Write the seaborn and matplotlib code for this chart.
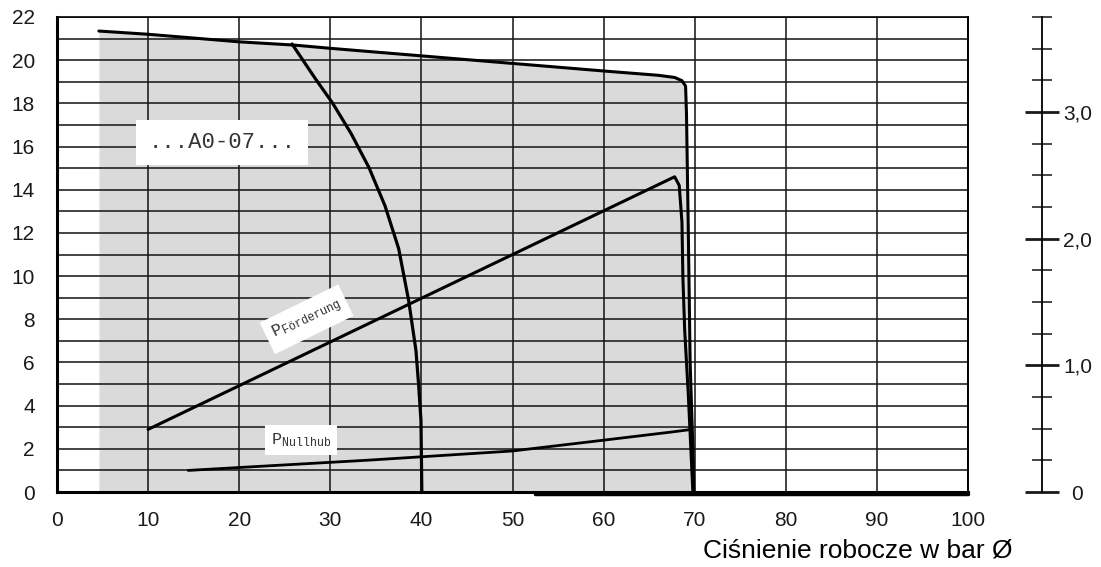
import matplotlib
matplotlib.use("Agg")
import matplotlib.pyplot as plt
import seaborn as sns

# ---------------- data ----------------
envelope_x = [4.6, 10, 20, 26, 30, 40, 50, 60, 66, 67.8, 68.6, 69.0, 69.1, 69.3, 69.5, 69.8, 69.9]
envelope_y = [21.35, 21.2, 20.85, 20.7, 20.55, 20.2, 19.85, 19.5, 19.3, 19.2, 19.05, 18.8, 17.5, 12.0, 6.0, 2.0, 0.0]

arc_x = [25.8, 28.3, 30.3, 32.3, 34.25, 36.0, 37.5, 38.6, 39.4, 39.7, 39.95, 40.05]
arc_y = [20.75, 19.18, 17.98, 16.59, 15.02, 13.26, 11.28, 8.87, 6.56, 4.94, 3.33, 0.0]

foerder_x = [10, 67.8, 68.3, 68.6, 68.7, 68.9, 69.3, 69.8]
foerder_y = [2.9, 14.6, 14.2, 12.5, 10.0, 7.5, 4.5, 0.0]

nullhub_x = [14.4, 34.4, 50, 60, 67.3, 69.7]
nullhub_y = [1.0, 1.48, 1.9, 2.4, 2.77, 2.9]

baseline_x = [52.5, 100]
baseline_y = [-0.08, -0.08]

x_ticks = [0, 10, 20, 30, 40, 50, 60, 70, 80, 90, 100]
x_ticklabels = ["0", "10", "20", "30", "40", "50", "60", "70", "80", "90", "100"]
y_ticks = [0, 2, 4, 6, 8, 10, 12, 14, 16, 18, 20, 22]
y_ticklabels = ["0", "2", "4", "6", "8", "10", "12", "14", "16", "18", "20", "22"]
y_minor = [1, 3, 5, 7, 9, 11, 13, 15, 17, 19, 21]

right_ticks = [0, 1, 2, 3]
right_ticklabels = ["0", "1,0", "2,0", "3,0"]
right_minor = [0.25, 0.5, 0.75, 1.25, 1.5, 1.75, 2.25, 2.5, 2.75, 3.25, 3.5, 3.75]

x_label = "Ciśnienie robocze w bar Ø"
series_label = "...A0-07..."
label_foerder = r"$\mathregular{P_{Förderung}}$"
label_nullhub = r"$\mathregular{P_{Nullhub}}$"

# ---------------- style ----------------
sns.set_style("white")
plt.rcParams["font.family"] = ["Liberation Sans", "DejaVu Sans"]

W, H = 1101, 567
fig = plt.figure(figsize=(W / 100, H / 100), dpi=100)
L, R, T, B = 57, 968, 17, 492
ax = fig.add_axes([L / W, (H - B) / H, (R - L) / W, (B - T) / H])

ax.set_xlim(0, 100)
ax.set_ylim(0, 22)
ax.set_axisbelow("line")

# shaded operating envelope
ax.fill_between(envelope_x, 0, envelope_y, color="#dadada", linewidth=0, zorder=1)

line_kw = dict(ax=ax, color="black", sort=False, estimator=None, legend=False)
sns.lineplot(x=envelope_x, y=envelope_y, linewidth=2.2, zorder=3, **line_kw)
sns.lineplot(x=arc_x, y=arc_y, linewidth=2.3, zorder=3, **line_kw)
sns.lineplot(x=foerder_x, y=foerder_y, linewidth=2.2, zorder=3, **line_kw)
sns.lineplot(x=nullhub_x, y=nullhub_y, linewidth=2.0, zorder=3, **line_kw)
bl = sns.lineplot(x=baseline_x, y=baseline_y, linewidth=2.5, zorder=3, **line_kw)
bl.lines[-1].set_clip_on(False)

# grid
ax.set_xticks(x_ticks)
ax.set_xticklabels(x_ticklabels)
ax.set_yticks(y_ticks)
ax.set_yticklabels(y_ticklabels)
ax.set_yticks(y_minor, minor=True)
ax.grid(True, which="major", axis="both", color="#1a1a1a", linewidth=1.15)
ax.grid(True, which="minor", axis="y", color="#1a1a1a", linewidth=1.15)
ax.tick_params(axis="both", which="both", length=0, labelsize=15, colors="#1a1a1a")
ax.tick_params(axis="x", pad=14)
ax.tick_params(axis="y", pad=16)

for side, lw in (("left", 2.2), ("bottom", 2.2), ("top", 1.2), ("right", 1.4)):
    ax.spines[side].set_visible(True)
    ax.spines[side].set_linewidth(lw)
    ax.spines[side].set_color("black")

# annotation boxes
ax.text(18.1, 16.2, series_label, family=["Liberation Mono", "DejaVu Sans Mono"],
        fontsize=16, color="#333333", ha="center", va="center", zorder=4,
        bbox=dict(boxstyle="square,pad=0.55", facecolor="white", edgecolor="none"))
ax.text(27.4, 8.0, label_foerder, family=["Liberation Mono", "DejaVu Sans"],
        fontsize=12, color="#333333", ha="center", va="center", rotation=26,
        rotation_mode="anchor", zorder=2.8,
        bbox=dict(boxstyle="square,pad=0.4", facecolor="white", edgecolor="none"))
ax.text(26.8, 2.4, label_nullhub, family=["Liberation Mono", "DejaVu Sans"],
        fontsize=12, color="#333333", ha="center", va="center", zorder=2.8,
        bbox=dict(boxstyle="square,pad=0.35", facecolor="white", edgecolor="none"))

# secondary scale on the right
ax2 = ax.twinx()
ax2.set_ylim(0, 3.75)
for side in ("left", "top", "bottom"):
    ax2.spines[side].set_visible(False)
ax2.spines["right"].set_position(("outward", (1042 - R) * 0.72))
ax2.spines["right"].set_linewidth(1.3)
ax2.spines["right"].set_color("black")
ax2.set_yticks(right_ticks)
ax2.set_yticklabels(right_ticklabels, ha="center")
ax2.set_yticks(right_minor, minor=True)
ax2.tick_params(axis="y", which="major", direction="inout", length=25, width=2.0,
                pad=13, labelsize=15, colors="#1a1a1a")
ax2.tick_params(axis="y", which="minor", direction="inout", length=14.5, width=1.2)
ax2.grid(False)

fig.text(703 / W, 1 - 550 / H, x_label, fontsize=19, ha="left", va="center", color="black")

fig.savefig("out.png", dpi=100)
